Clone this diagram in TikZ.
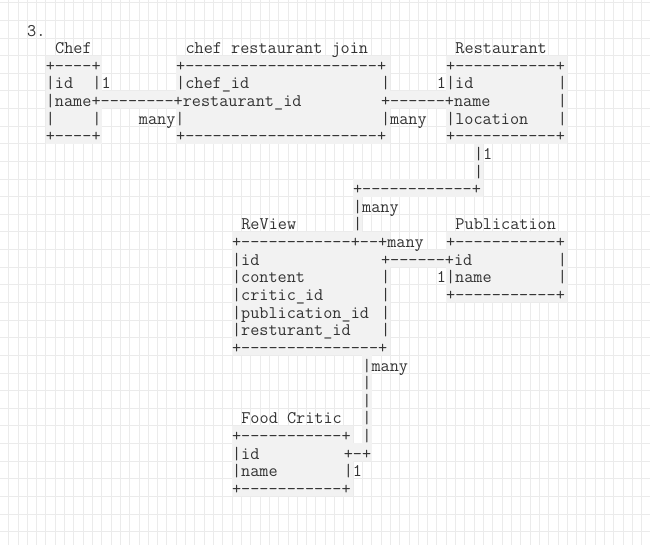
\documentclass[tikz,border=0pt]{standalone}
\usepackage{fontspec}
\ExplSyntaxOn
\cs_new:Npn \dsh #1 { \prg_replicate:nn {#1} { -\kern0pt } }
\ExplSyntaxOff
\definecolor{gridc}{HTML}{EBEBEB}
\definecolor{cellc}{HTML}{F2F2F2}
\definecolor{inkc}{HTML}{333333}
\tikzset{
  txt/.style={anchor=base west, inner sep=0pt, outer sep=0pt, text=inkc,
    font=\ttfamily\fontsize{17.73}{17.73}\selectfont},
  gridline/.style={draw=gridc, line width=0.8pt},
  cellfill/.style={fill=cellc}
}
\newcommand\T[3]{\node[txt] (t-#1-#2) at ({-0.7+9.31*#1},{-(2.7+17.63*#2+15.7)}) {#3};}
\newcommand\G[4]{\fill[cellfill] ({-0.7+9.31*#1},{-(2.7+17.63*#2)}) rectangle ({-0.7+9.31*(#3+1)},{-(2.7+17.63*(#4+1))});}
\begin{document}
\begin{tikzpicture}[x=1pt,y=1pt]
\fill[white] (0,0) rectangle (650,-545);
\useasboundingbox (0,0) rectangle (650,-545);
% grid
\foreach \k in {0,...,70} {\draw[gridline] ({-0.7+9.31*\k},0) -- ({-0.7+9.31*\k},-545);}
\foreach \j in {0,...,30} {\draw[gridline] (0,{-(2.7+17.63*\j)}) -- (650,{-(2.7+17.63*\j)});}
% shaded cells
\G{5}{3}{10}{7}
\G{19}{3}{41}{7}
\G{48}{3}{60}{7}
\G{11}{5}{18}{5}
\G{42}{5}{47}{5}
\G{51}{8}{51}{9}
\G{38}{10}{51}{10}
\G{38}{11}{38}{12}
\G{25}{13}{41}{19}
\G{42}{14}{47}{14}
\G{48}{13}{60}{16}
\G{39}{20}{39}{24}
\G{38}{25}{39}{25}
\G{25}{24}{37}{27}
% text rows
\T{3}{1}{3.}
\T{6}{2}{Chef}
\T{20}{2}{chef restaurant join}
\T{49}{2}{Restaurant}
\T{5}{3}{+\dsh{4}+}
\T{19}{3}{+\dsh{21}+}
\T{48}{3}{+\dsh{11}+}
\T{5}{4}{|id}
\T{10}{4}{|1}
\T{19}{4}{|chef\_id}
\T{41}{4}{|}
\T{47}{4}{1|id}
\T{60}{4}{|}
\T{5}{5}{|name+\dsh{8}+restaurant\_id}
\T{41}{5}{+\dsh{6}+name}
\T{60}{5}{|}
\T{5}{6}{|}
\T{10}{6}{|}
\T{15}{6}{many|}
\T{41}{6}{|many}
\T{48}{6}{|location}
\T{60}{6}{|}
\T{5}{7}{+\dsh{4}+}
\T{19}{7}{+\dsh{21}+}
\T{48}{7}{+\dsh{11}+}
\T{51}{8}{|1}
\T{51}{9}{|}
\T{38}{10}{+\dsh{12}+}
\T{38}{11}{|many}
\T{26}{12}{ReView}
\T{38}{12}{|}
\T{49}{12}{Publication}
\T{25}{13}{+\dsh{12}+\dsh{2}+many}
\T{48}{13}{+\dsh{11}+}
\T{25}{14}{|id}
\T{41}{14}{+\dsh{6}+id}
\T{60}{14}{|}
\T{25}{15}{|content}
\T{41}{15}{|}
\T{47}{15}{1|name}
\T{60}{15}{|}
\T{25}{16}{|critic\_id}
\T{41}{16}{|}
\T{48}{16}{+\dsh{11}+}
\T{25}{17}{|publication\_id}
\T{41}{17}{|}
\T{25}{18}{|resturant\_id}
\T{41}{18}{|}
\T{25}{19}{+\dsh{15}+}
\T{39}{20}{|many}
\T{39}{21}{|}
\T{39}{22}{|}
\T{26}{23}{Food Critic}
\T{39}{23}{|}
\T{25}{24}{+\dsh{11}+}
\T{39}{24}{|}
\T{25}{25}{|id}
\T{37}{25}{+\dsh{1}+}
\T{25}{26}{|name}
\T{37}{26}{|1}
\T{25}{27}{+\dsh{11}+}
\end{tikzpicture}
\end{document}
